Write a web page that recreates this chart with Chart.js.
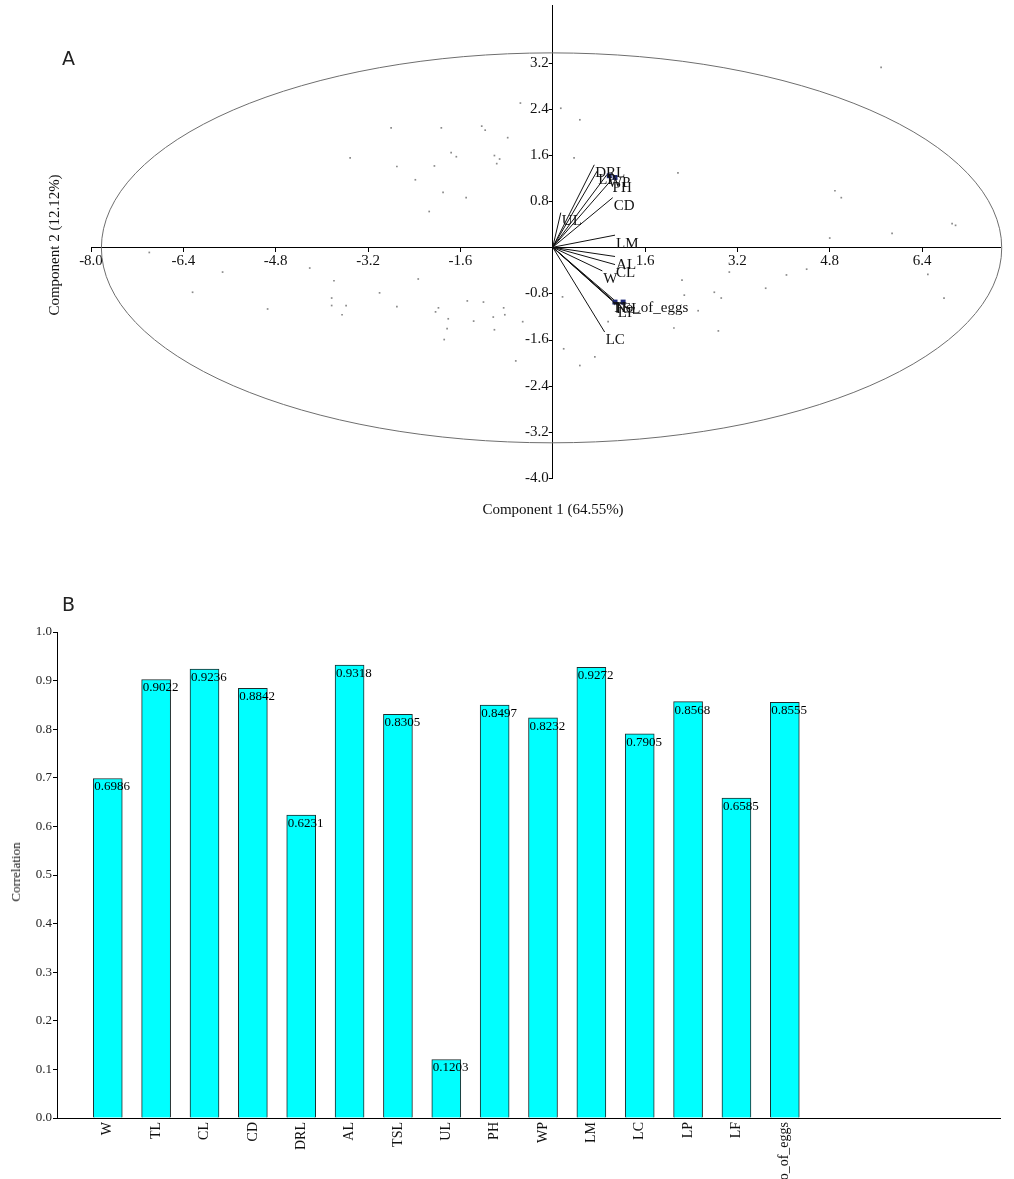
<!DOCTYPE html>
<html>
<head>
<meta charset="utf-8">
<script src="https://cdn.jsdelivr.net/npm/chart.js@4.4.0/dist/chart.umd.min.js"></script>
<style>
  body { margin: 0; background: #fff; width: 1014px; height: 1179px; position: relative; overflow: hidden; font-family: "Liberation Serif", serif; color: #111; }
  #wrapA { position: absolute; left: 0; top: 0; width: 1014px; height: 530px; }
  #wrapB { position: absolute; left: 0; top: 580px; width: 1014px; height: 599px; }
  .panel { position: absolute; font-family: "DejaVu Sans", sans-serif; font-size: 19px; color: #222; }
  .title { position: absolute; font-size: 15px; white-space: nowrap; }
  .rot { transform: translate(-50%, -50%) rotate(-90deg); }
</style>
</head>
<body>
<div id="wrapA"><canvas id="pcaChart"></canvas></div>
<div id="wrapB"><canvas id="corrChart"></canvas></div>
<div class="panel" style="left:62px; top:47px;">A</div>
<div class="panel" style="left:62px; top:593px;">B</div>
<div class="title" style="left:553px; top:501px; transform:translateX(-50%);">Component 1 (64.55%)</div>
<div class="title rot" style="left:54px; top:245px;">Component 2 (12.12%)</div>
<div class="title rot" style="left:16px; top:872px; font-size:13px;">Correlation</div>
<script>
// Panel A: PCA scores (grey dots)
const scores = [
  [-2.80, 2.07], [-1.93, 2.07], [-1.23, 2.10], [-1.17, 2.03], [-0.78, 1.90], [-1.76, 1.64],
  [-1.67, 1.57], [-1.01, 1.59], [-0.92, 1.53], [-0.97, 1.45], [-3.51, 1.55], [-2.70, 1.40],
  [-2.05, 1.41], [-2.38, 1.17], [-1.90, 0.95], [-1.50, 0.86], [-2.14, 0.62], [-0.56, 2.50],
  [0.14, 2.41], [0.47, 2.21], [0.37, 1.55], [2.17, 1.29], [5.69, 3.12], [4.89, 0.98],
  [5.00, 0.86], [6.92, 0.41], [6.98, 0.38], [5.88, 0.24], [4.80, 0.16],
  [-6.99, -0.09], [-5.72, -0.43], [-6.24, -0.78], [-4.94, -1.07], [-4.21, -0.36], [-3.79, -0.58],
  [-3.83, -0.88], [-3.83, -1.01], [-3.58, -1.01], [-3.65, -1.17], [-3.00, -0.79], [-2.70, -1.03],
  [-2.33, -0.55], [-1.98, -1.05], [-2.03, -1.12], [-1.81, -1.24], [-1.83, -1.41], [-1.88, -1.60],
  [-1.48, -0.93], [-1.20, -0.95], [-1.37, -1.28], [-1.03, -1.21], [-1.01, -1.43], [-0.85, -1.05],
  [-0.83, -1.17], [-0.52, -1.29], [-0.64, -1.97],
  [0.17, -0.86], [0.19, -1.76], [0.47, -2.05], [0.73, -1.90], [0.96, -1.29], [2.24, -0.57],
  [2.28, -0.83], [2.80, -0.78], [2.92, -0.88], [3.69, -0.71], [3.06, -0.43], [4.05, -0.48],
  [4.40, -0.38], [6.50, -0.47], [6.78, -0.88], [2.10, -1.40], [2.87, -1.45], [2.52, -1.10]
];

// loading vectors (end points)
const loadingNames = ['DRL', 'LP', 'WP', 'PH', 'CD', 'UL', 'LM', 'AL', 'CL', 'W', 'TL', 'TSL', 'No_of_eggs', 'LF', 'LC'];
const loadingX = [0.72, 0.77, 0.94, 1.02, 1.04, 0.14, 1.08, 1.08, 1.08, 0.86, 1.02, 1.04, 1.06, 1.11, 0.90];
const loadingY = [1.43, 1.32, 1.26, 1.17, 0.86, 0.60, 0.21, -0.16, -0.30, -0.41, -0.91, -0.92, -0.91, -1.00, -1.47];

// blue marker squares near the crowded label ends
const markX = [0.98, 1.08, 1.08, 1.22];
const markY = [1.24, 1.21, -0.95, -0.95];

const xTicks = [-8.0, -6.4, -4.8, -3.2, -1.6, 1.6, 3.2, 4.8, 6.4];
const yTicks = [3.2, 2.4, 1.6, 0.8, -0.8, -1.6, -2.4, -3.2, -4.0];

const ellipseCenter = [-0.02, -0.01];
const ellipseRadii = [7.8, 3.38];

// Panel B: correlations
const categories = ['W', 'TL', 'CL', 'CD', 'DRL', 'AL', 'TSL', 'UL', 'PH', 'WP', 'LM', 'LC', 'LP', 'LF', 'No_of_eggs'];
const correlations = [0.6986, 0.9022, 0.9236, 0.8842, 0.6231, 0.9318, 0.8305, 0.1203, 0.8497, 0.8232, 0.9272, 0.7905, 0.8568, 0.6585, 0.8555];
const barTicks = [0.0, 0.1, 0.2, 0.3, 0.4, 0.5, 0.6, 0.7, 0.8, 0.9, 1.0];

const serif = 'Liberation Serif';

function noPad(s) {
  s.paddingLeft = 0; s.paddingRight = 0; s.paddingTop = 0; s.paddingBottom = 0;
}

// draw the confidence ellipse through the scales
const ellipsePlugin = {
  id: 'ellipse',
  beforeDatasetsDraw(chart) {
    const {ctx, scales: {x, y}} = chart;
    const cx = x.getPixelForValue(ellipseCenter[0]);
    const cy = y.getPixelForValue(ellipseCenter[1]);
    const rx = x.getPixelForValue(ellipseCenter[0] + ellipseRadii[0]) - cx;
    const ry = cy - y.getPixelForValue(ellipseCenter[1] + ellipseRadii[1]);
    ctx.save();
    ctx.strokeStyle = '#6e6e6e';
    ctx.lineWidth = 1;
    ctx.beginPath();
    ctx.ellipse(cx, cy, rx, ry, 0, 0, Math.PI * 2);
    ctx.stroke();
    ctx.restore();
  }
};

// names at the end of each loading vector, and the y tick labels left of the centre axis
const loadingLabels = {
  id: 'loadingLabels',
  afterDatasetsDraw(chart) {
    const ctx = chart.ctx;
    ctx.save();
    ctx.font = '15px "' + serif + '"';
    ctx.fillStyle = '#111';
    ctx.textBaseline = 'top';
    chart.data.datasets.forEach((ds, i) => {
      if (!ds.loadingName) return;
      const end = chart.getDatasetMeta(i).data[1];
      ctx.fillText(ds.loadingName, end.x + 1, end.y + 1);
    });
    const x0 = chart.scales.x.getPixelForValue(0);
    ctx.textAlign = 'right';
    ctx.textBaseline = 'middle';
    yTicks.forEach(v => {
      const py = chart.scales.y.getPixelForValue(v);
      ctx.fillText(v.toFixed(1), x0 - 4, py);
      ctx.beginPath();
      ctx.moveTo(x0 - 4, Math.round(py) + 0.5);
      ctx.lineTo(x0, Math.round(py) + 0.5);
      ctx.strokeStyle = '#000';
      ctx.lineWidth = 1;
      ctx.stroke();
    });
    ctx.restore();
  }
};

const vectorSets = loadingNames.map((name, i) => ({
  type: 'line',
  loadingName: name,
  data: [{x: 0, y: 0}, {x: loadingX[i], y: loadingY[i]}],
  borderColor: '#111',
  borderWidth: 1,
  pointRadius: 0,
  showLine: true,
  fill: false
}));

new Chart(document.getElementById('pcaChart'), {
  type: 'scatter',
  data: {
    datasets: [
      {
        data: scores.map(p => ({x: p[0], y: p[1]})),
        pointStyle: 'rect',
        pointRadius: 1.2,
        backgroundColor: '#8a8a8a',
        borderWidth: 0
      },
      ...vectorSets,
      {
        data: markX.map((v, i) => ({x: v, y: markY[i]})),
        pointStyle: 'rect',
        pointRadius: 3.5,
        backgroundColor: '#1f2a7a',
        borderWidth: 0
      }
    ]
  },
  options: {
    responsive: true,
    maintainAspectRatio: false,
    animation: false,
    layout: { padding: { left: 91, right: 14, top: 5, bottom: 52 } },
    plugins: { legend: { display: false }, tooltip: { enabled: false } },
    scales: {
      x: {
        type: 'linear',
        min: -8,
        max: 7.75,
        position: { y: 0 },
        afterBuildTicks: s => { s.ticks = xTicks.map(v => ({value: v})); },
        afterFit: noPad,
        grid: { display: true, drawOnChartArea: false, drawTicks: true, tickLength: 4, color: '#000' },
        border: { color: '#000', width: 1 },
        ticks: {
          color: '#111',
          font: { family: serif, size: 15 },
          padding: 1,
          maxRotation: 0,
          autoSkip: false,
          callback: v => v.toFixed(1)
        }
      },
      y: {
        type: 'linear',
        min: -4,
        max: 4.2,
        position: { x: 0 },
        afterBuildTicks: s => { s.ticks = yTicks.map(v => ({value: v})); },
        afterFit: noPad,
        grid: { display: false },
        border: { display: true, color: '#000', width: 1 },
        ticks: { display: false }
      }
    }
  },
  plugins: [ellipsePlugin, loadingLabels]
});

// value text at the top-left of each bar
const barValues = {
  id: 'barValues',
  afterDatasetsDraw(chart) {
    const ctx = chart.ctx;
    ctx.save();
    ctx.font = '13px "' + serif + '"';
    ctx.fillStyle = '#000';
    ctx.textBaseline = 'top';
    chart.getDatasetMeta(0).data.forEach((bar, i) => {
      ctx.fillText(correlations[i].toFixed(4), bar.x - bar.width / 2 + 1, bar.y + 2);
    });
    ctx.restore();
  }
};

new Chart(document.getElementById('corrChart'), {
  type: 'bar',
  data: {
    datasets: [{
      data: categories.map((c, i) => ({x: i + 1, y: correlations[i]})),
      backgroundColor: '#00ffff',
      borderColor: '#1e2b2b',
      borderWidth: 1,
      barThickness: 29
    }]
  },
  options: {
    responsive: true,
    maintainAspectRatio: false,
    animation: false,
    layout: { padding: { left: 0, right: 14, top: 52, bottom: 0 } },
    plugins: { legend: { display: false }, tooltip: { enabled: false } },
    scales: {
      x: {
        type: 'linear',
        offset: false,
        min: -0.05,
        max: 19.45,
        afterBuildTicks: s => { s.ticks = categories.map((c, i) => ({value: i + 1})); },
        afterFit: s => { s.height = 61; noPad(s); },
        grid: { display: false, drawTicks: false },
        border: { color: '#000', width: 1 },
        ticks: {
          color: '#111',
          font: { family: serif, size: 14 },
          padding: 4,
          minRotation: 90,
          maxRotation: 90,
          autoSkip: false,
          callback: (v, i) => categories[i]
        }
      },
      y: {
        min: 0,
        max: 1,
        afterBuildTicks: s => { s.ticks = barTicks.map(v => ({value: v})); },
        afterFit: s => { s.width = 57; noPad(s); },
        grid: { display: true, drawOnChartArea: false, drawTicks: true, tickLength: 4, color: '#000' },
        border: { color: '#000', width: 1 },
        ticks: {
          color: '#222',
          font: { family: serif, size: 13 },
          padding: 1,
          autoSkip: false,
          callback: v => v.toFixed(1)
        }
      }
    }
  },
  plugins: [barValues]
});
</script>
</body>
</html>
